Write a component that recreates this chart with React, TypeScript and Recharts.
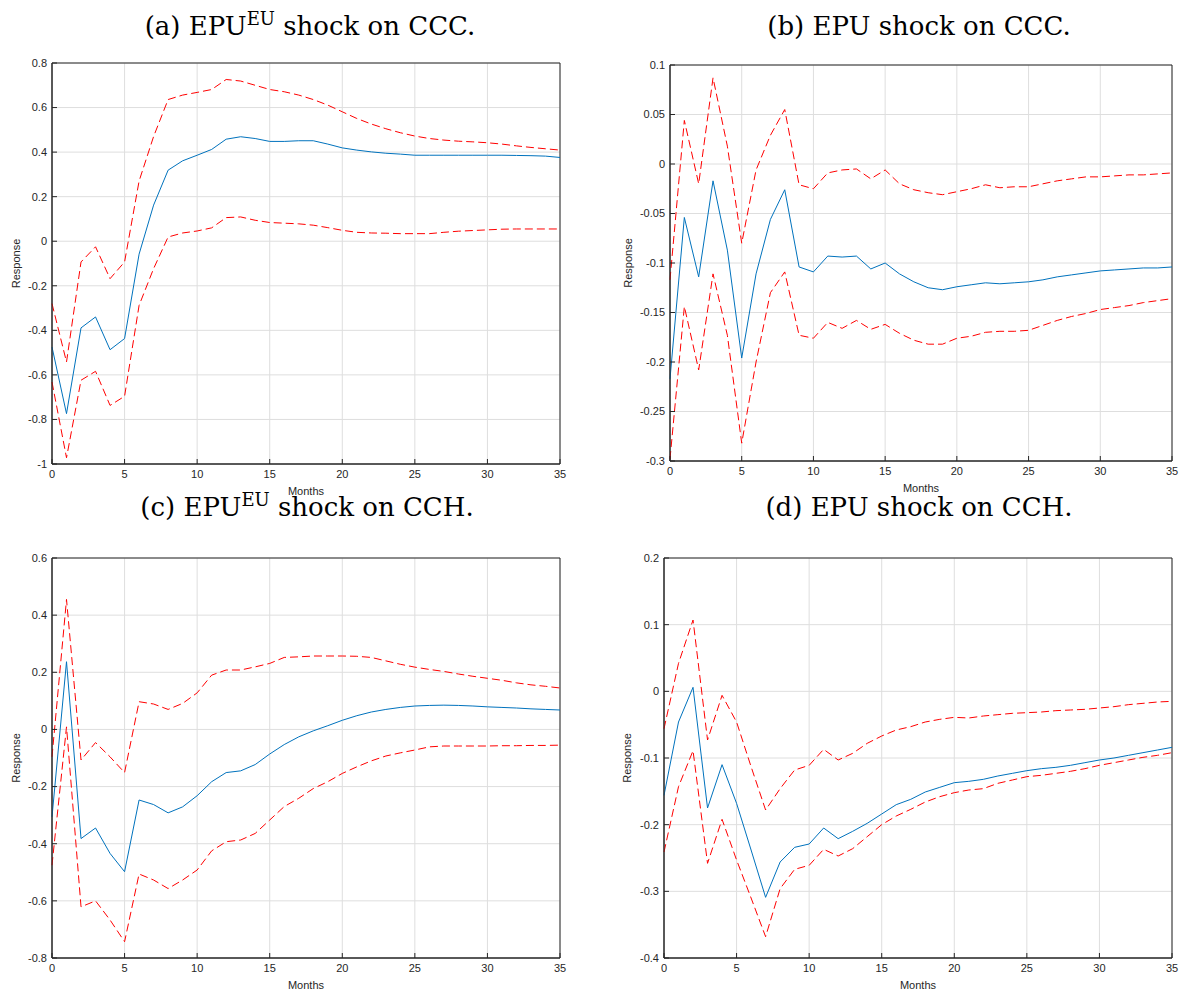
import { LineChart, Line, XAxis, YAxis, CartesianGrid, ReferenceArea } from 'recharts'

const months = [
  0, 1, 2, 3, 4, 5, 6, 7, 8, 9, 10, 11, 12, 13, 14, 15, 16, 17,
  18, 19, 20, 21, 22, 23, 24, 25, 26, 27, 28, 29, 30, 31, 32, 33, 34, 35,
]
const monthTicks = [0, 5, 10, 15, 20, 25, 30, 35]

// (a) EPU^EU shock on CCC
const aResponse = [
  -0.475, -0.774, -0.389, -0.34, -0.487, -0.437, -0.058, 0.162, 0.319, 0.361,
  0.386, 0.412, 0.458, 0.469, 0.461, 0.448, 0.448, 0.451, 0.451, 0.436,
  0.419, 0.409, 0.401, 0.395, 0.391, 0.386, 0.386, 0.386, 0.386, 0.386,
  0.386, 0.386, 0.385, 0.384, 0.382, 0.376,
]
const aUpper = [
  -0.28, -0.542, -0.093, -0.025, -0.168, -0.093, 0.27, 0.47, 0.636, 0.656,
  0.668, 0.681, 0.726, 0.719, 0.7, 0.681, 0.671, 0.656, 0.636, 0.611,
  0.581, 0.551, 0.526, 0.505, 0.487, 0.472, 0.461, 0.454, 0.449, 0.446,
  0.442, 0.436, 0.428, 0.421, 0.415, 0.409,
]
const aLower = [
  -0.632, -0.972, -0.624, -0.584, -0.737, -0.696, -0.288, -0.123, 0.019, 0.037,
  0.046, 0.06, 0.106, 0.109, 0.094, 0.084, 0.081, 0.078, 0.072, 0.061,
  0.049, 0.04, 0.037, 0.036, 0.034, 0.034, 0.034, 0.04, 0.045, 0.048,
  0.051, 0.054, 0.055, 0.055, 0.055, 0.055,
]
const aTicks = [-1, -0.8, -0.6, -0.4, -0.2, 0, 0.2, 0.4, 0.6, 0.8]

// (b) EPU shock on CCC
const bResponse = [
  -0.217, -0.054, -0.114, -0.017, -0.087, -0.196, -0.111, -0.056, -0.026, -0.104,
  -0.109, -0.093, -0.094, -0.093, -0.106, -0.1, -0.111, -0.119, -0.125, -0.127,
  -0.124, -0.122, -0.12, -0.121, -0.12, -0.119, -0.117, -0.114, -0.112, -0.11,
  -0.108, -0.107, -0.106, -0.105, -0.105, -0.104,
]
const bUpper = [
  -0.117, 0.044, -0.02, 0.087, 0.018, -0.08, -0.006, 0.029, 0.055, -0.021,
  -0.025, -0.009, -0.006, -0.005, -0.015, -0.006, -0.02, -0.026, -0.029, -0.031,
  -0.028, -0.025, -0.021, -0.024, -0.023, -0.023, -0.02, -0.017, -0.015, -0.013,
  -0.013, -0.012, -0.011, -0.011, -0.01, -0.009,
]
const bLower = [
  -0.298, -0.144, -0.208, -0.111, -0.173, -0.282, -0.2, -0.13, -0.109, -0.173,
  -0.176, -0.16, -0.166, -0.158, -0.167, -0.162, -0.171, -0.178, -0.182, -0.182,
  -0.176, -0.174, -0.17, -0.169, -0.169, -0.168, -0.163, -0.158, -0.154, -0.151,
  -0.147, -0.145, -0.143, -0.14, -0.138, -0.136,
]
const bTicks = [-0.3, -0.25, -0.2, -0.15, -0.1, -0.05, 0, 0.05, 0.1]

// (c) EPU^EU shock on CCH
const cResponse = [
  -0.306, 0.237, -0.382, -0.345, -0.434, -0.498, -0.247, -0.263, -0.292, -0.271,
  -0.232, -0.183, -0.151, -0.145, -0.123, -0.086, -0.053, -0.026, -0.005, 0.013,
  0.032, 0.048, 0.061, 0.07, 0.077, 0.082, 0.084, 0.085, 0.084, 0.082,
  0.079, 0.077, 0.075, 0.072, 0.07, 0.068,
]
const cUpper = [
  -0.096, 0.455, -0.107, -0.046, -0.096, -0.151, 0.097, 0.089, 0.07, 0.091,
  0.128, 0.19, 0.208, 0.208, 0.219, 0.231, 0.252, 0.254, 0.257, 0.257,
  0.257, 0.256, 0.252, 0.24, 0.228, 0.218, 0.21, 0.203, 0.194, 0.186,
  0.179, 0.172, 0.163, 0.156, 0.151, 0.145,
]
const cLower = [
  -0.475, 0.009, -0.621, -0.6, -0.667, -0.743, -0.506, -0.527, -0.557, -0.527,
  -0.492, -0.425, -0.393, -0.387, -0.364, -0.317, -0.27, -0.241, -0.207, -0.183,
  -0.154, -0.131, -0.11, -0.093, -0.082, -0.072, -0.061, -0.058, -0.058, -0.058,
  -0.058, -0.057, -0.057, -0.056, -0.056, -0.055,
]
const cTicks = [-0.8, -0.6, -0.4, -0.2, 0, 0.2, 0.4, 0.6]

// (d) EPU shock on CCH
const dResponse = [
  -0.156, -0.046, 0.006, -0.175, -0.11, -0.168, -0.238, -0.309, -0.256, -0.234,
  -0.229, -0.205, -0.221, -0.21, -0.198, -0.184, -0.17, -0.162, -0.151, -0.144,
  -0.137, -0.135, -0.132, -0.127, -0.123, -0.119, -0.116, -0.114, -0.111, -0.107,
  -0.103, -0.1, -0.096, -0.092, -0.088, -0.084,
]
const dUpper = [
  -0.056, 0.042, 0.107, -0.073, -0.006, -0.046, -0.113, -0.178, -0.146, -0.118,
  -0.111, -0.087, -0.103, -0.093, -0.078, -0.067, -0.058, -0.053, -0.046, -0.042,
  -0.039, -0.04, -0.037, -0.035, -0.033, -0.032, -0.031, -0.029, -0.028, -0.027,
  -0.025, -0.023, -0.02, -0.018, -0.016, -0.015,
]
const dLower = [
  -0.241, -0.143, -0.089, -0.258, -0.192, -0.253, -0.31, -0.368, -0.296, -0.267,
  -0.261, -0.237, -0.247, -0.236, -0.218, -0.2, -0.187, -0.177, -0.166, -0.158,
  -0.152, -0.148, -0.146, -0.138, -0.133, -0.128, -0.126, -0.123, -0.12, -0.116,
  -0.111, -0.107, -0.103, -0.099, -0.096, -0.092,
]
const dTicks = [-0.4, -0.3, -0.2, -0.1, 0, 0.1, 0.2]

const AXIS = '#262626'
const GRID = '#dedede'
const BLUE = '#0072BD'
const RED = '#FF0000'
const Y_AXIS_W = 45
const X_AXIS_H = 36

const fmt = (v: number) => String(parseFloat(v.toFixed(2)))

interface PanelProps {
  left: number
  top: number
  right: number
  bottom: number
  response: number[]
  upper: number[]
  lower: number[]
  ticks: number[]
  labelGap: number
}

function Panel({ left, top, right, bottom, response, upper, lower, ticks, labelGap }: PanelProps) {
  const x0 = left - Y_AXIS_W - 7
  const y0 = top - 10
  const width = right + 10 - x0
  const height = bottom - y0 + X_AXIS_H
  const data = months.map((m, i) => ({ m, response: response[i], upper: upper[i], lower: lower[i] }))
  const domain: [number, number] = [ticks[0], ticks[ticks.length - 1]]
  const tickStyle = { fontSize: 11, fill: AXIS }
  const line = { stroke: AXIS, strokeWidth: 1 }

  return (
    <div style={{ position: 'absolute', left: x0, top: y0 }}>
      <LineChart width={width} height={height} data={data} margin={{ top: 10, right: 10, bottom: 0, left: 7 }}>
        <CartesianGrid stroke={GRID} />
        <XAxis
          dataKey="m"
          type="number"
          domain={[0, 35]}
          ticks={monthTicks}
          interval={0}
          height={X_AXIS_H}
          axisLine={line}
          tickLine={line}
          tickSize={-5}
          tickMargin={11}
          tick={tickStyle}
          label={{ value: 'Months', position: 'insideBottom', offset: 5, style: { fontSize: 11, fill: AXIS } }}
        />
        <XAxis
          xAxisId="top"
          orientation="top"
          dataKey="m"
          type="number"
          domain={[0, 35]}
          ticks={monthTicks}
          interval={0}
          height={0}
          axisLine={line}
          tickLine={line}
          tickSize={-5}
          tick={false}
        />
        <YAxis
          type="number"
          domain={domain}
          ticks={ticks}
          interval={0}
          width={Y_AXIS_W}
          axisLine={line}
          tickLine={line}
          tickSize={-5}
          tickMargin={10}
          tick={tickStyle}
          tickFormatter={fmt}
          label={{
            value: 'Response',
            angle: -90,
            position: 'insideLeft',
            offset: Y_AXIS_W - labelGap,
            style: { textAnchor: 'middle', fontSize: 11, fill: AXIS },
          }}
        />
        <YAxis
          yAxisId="right"
          orientation="right"
          type="number"
          domain={domain}
          ticks={ticks}
          interval={0}
          width={0}
          axisLine={line}
          tickLine={line}
          tickSize={-5}
          tick={false}
        />
        <Line type="linear" dataKey="upper" stroke={RED} strokeWidth={1} strokeDasharray="8 4" dot={false} isAnimationActive={false} />
        <Line type="linear" dataKey="lower" stroke={RED} strokeWidth={1} strokeDasharray="8 4" dot={false} isAnimationActive={false} />
        <Line type="linear" dataKey="response" stroke={BLUE} strokeWidth={1} dot={false} isAnimationActive={false} />
        <ReferenceArea x1={0} x2={35} y1={domain[0]} y2={domain[1]} fill="none" stroke={AXIS} strokeWidth={1} strokeOpacity={1} />
      </LineChart>
    </div>
  )
}

const titleStyle = {
  position: 'absolute' as const,
  width: 460,
  textAlign: 'center' as const,
  fontFamily: '"DejaVu Serif", serif',
  fontSize: 26,
  color: '#000',
  lineHeight: '12px',
  whiteSpace: 'nowrap' as const,
}
const supStyle = { fontSize: 18, position: 'relative' as const, top: -10 }

export default function App() {
  return (
    <div style={{ position: 'absolute', left: 0, top: 0, width: 1182, height: 993, background: '#fff', fontFamily: '"Liberation Sans", Arial, sans-serif', overflow: 'hidden' }}>
      <div style={{ ...titleStyle, left: 80, top: 20 }}>
        (a) EPU<span style={supStyle}>EU</span> shock on CCC.
      </div>
      <div style={{ ...titleStyle, left: 689, top: 20 }}>(b) EPU shock on CCC.</div>
      <div style={{ ...titleStyle, left: 77, top: 501 }}>
        (c) EPU<span style={supStyle}>EU</span> shock on CCH.
      </div>
      <div style={{ ...titleStyle, left: 689, top: 501 }}>(d) EPU shock on CCH.</div>

      <Panel left={52} top={63} right={560} bottom={464} response={aResponse} upper={aUpper} lower={aLower} ticks={aTicks} labelGap={36} />
      <Panel left={670} top={65} right={1172} bottom={461} response={bResponse} upper={bUpper} lower={bLower} ticks={bTicks} labelGap={42} />
      <Panel left={52} top={558} right={560} bottom={958} response={cResponse} upper={cUpper} lower={cLower} ticks={cTicks} labelGap={36} />
      <Panel left={664} top={558} right={1172} bottom={958} response={dResponse} upper={dUpper} lower={dLower} ticks={dTicks} labelGap={37} />
    </div>
  )
}
